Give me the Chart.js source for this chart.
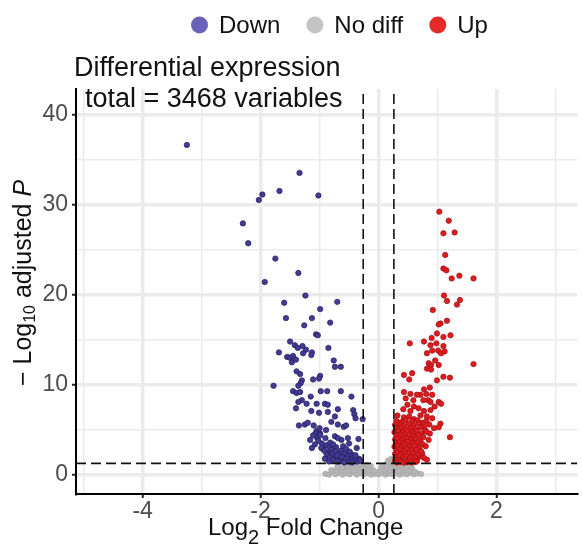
<!DOCTYPE html>
<html>
<head>
<meta charset="utf-8">
<script src="https://cdn.jsdelivr.net/npm/chart.js@4.4.1/dist/chart.umd.min.js"></script>
<style>
  html, body { margin: 0; padding: 0; background: #fff; }
  #volcano { display: block; }
</style>
</head>
<body>
<canvas id="volcano" width="582" height="545"></canvas>
<script>
// values: [log2 fold change, -log10 adjusted p]
const downPoints = [
  [-3.25, 36.6], [-1.34, 33.5], [-1.68, 31.5], [-1.97, 31.1], [-2.03, 30.5], [-1.02, 31.0],
  [-2.30, 27.9], [-2.21, 25.7], [-1.75, 24.0], [-1.36, 22.4], [-1.93, 21.4], [-1.24, 19.9],
  [-1.60, 19.1], [-0.70, 19.2], [-0.99, 18.4], [-1.57, 17.4], [-1.13, 17.4], [-0.82, 16.9],
  [-1.26, 16.6], [-1.06, 15.6], [-1.03, 15.5], [-1.50, 14.8], [-1.42, 14.4], [-1.37, 14.1],
  [-1.29, 14.3], [-1.23, 13.9], [-1.13, 13.6], [-0.85, 14.1], [-1.69, 13.6], [-1.55, 13.1],
  [-1.50, 13.0], [-1.45, 13.2], [-0.76, 12.7], [-1.47, 12.5], [-1.40, 12.8], [-1.28, 13.5],
  [-1.14, 13.3], [-0.74, 12.0], [-0.64, 12.0], [-1.39, 11.5], [-1.33, 11.2], [-0.99, 11.0],
  [-1.11, 10.6], [-1.01, 10.7], [-1.30, 10.5], [-1.32, 10.2], [-1.36, 9.9], [-1.78, 9.9],
  [-1.45, 9.3], [-1.39, 9.1], [-1.33, 9.2], [-0.98, 9.3], [-0.87, 9.3], [-0.64, 9.3],
  [-0.46, 8.7], [-1.30, 8.3], [-1.36, 8.1], [-1.22, 7.9], [-1.15, 8.7], [-1.05, 7.9],
  [-0.91, 7.9], [-0.86, 7.8], [-1.40, 7.4], [-1.14, 7.1], [-1.01, 6.9], [-0.86, 7.0],
  [-0.69, 7.3], [-0.43, 7.2], [-0.41, 6.75], [-0.74, 6.5], [-0.39, 6.3], [-0.27, 6.2],
  [-1.35, 5.5], [-1.25, 5.6], [-1.20, 5.8], [-0.80, 5.9], [-0.69, 5.6], [-0.59, 5.35],
  [-0.55, 5.5], [-1.10, 5.5], [-1.05, 4.9], [-1.00, 5.2], [-1.07, 4.6], [-0.99, 4.6],
  [-0.89, 5.0], [-0.74, 4.3], [-0.63, 3.9], [-0.52, 4.1], [-0.69, 4.1], [-1.16, 3.9],
  [-1.11, 4.4], [-1.04, 4.1], [-0.99, 4.4], [-0.96, 3.5], [-0.88, 3.3], [-0.94, 2.9],
  [-0.83, 3.1], [-0.86, 2.5], [-0.72, 3.1], [-0.64, 2.7], [-0.66, 2.3], [-0.57, 2.4],
  [-0.52, 2.1], [-0.46, 2.3], [-0.43, 1.9], [-0.59, 1.9], [-0.69, 1.9], [-0.76, 2.1],
  [-0.40, 1.7], [-0.48, 1.7], [-0.88, 2.3], [-0.83, 1.9], [-0.77, 1.7], [-0.91, 1.8],
  [-1.02, 3.8], [-0.97, 3.0], [-0.92, 2.7], [-0.80, 2.8], [-0.78, 2.4], [-0.73, 2.6],
  [-0.70, 2.2], [-0.62, 2.0], [-0.55, 1.8], [-0.50, 1.5], [-0.45, 1.4], [-0.36, 1.5],
  [-0.33, 1.8], [-0.66, 1.5], [-0.58, 1.4], [-0.71, 1.5], [-0.84, 1.5], [-1.08, 3.4],
  [-1.13, 3.0], [-0.90, 4.1], [-0.82, 3.6], [-0.77, 3.4], [-0.60, 3.2], [-0.55, 2.9],
  [-0.49, 2.6], [-0.39, 2.2], [-0.31, 1.6], [-0.37, 3.0], [-0.34, 4.0], [-0.50, 3.5]
];

const nodiffPoints = [
  [-0.90, 0.15], [-0.84, 0.05], [-0.79, 0.30], [-0.73, 0.10], [-0.67, 0.25], [-0.61, 0.05],
  [-0.55, 0.20], [-0.49, 0.10], [-0.43, 0.30], [-0.37, 0.05], [-0.31, 0.20], [-0.25, 0.10],
  [-0.19, 0.25], [-0.13, 0.05], [-0.07, 0.15], [0.00, 0.08], [0.06, 0.22], [0.12, 0.05],
  [0.18, 0.18], [0.24, 0.10], [0.30, 0.25], [0.36, 0.05], [0.42, 0.20], [0.48, 0.10],
  [0.54, 0.28], [0.60, 0.08], [0.66, 0.20], [0.72, 0.12],
  [-0.80, 0.55], [-0.71, 0.50], [-0.63, 0.60], [-0.56, 0.45], [-0.48, 0.55], [-0.41, 0.50],
  [-0.34, 0.60], [-0.26, 0.45], [-0.17, 0.55], [-0.08, 0.50], [0.02, 0.45], [0.10, 0.60],
  [0.19, 0.50], [0.27, 0.55], [0.35, 0.45], [0.44, 0.60], [0.52, 0.50], [0.61, 0.40],
  [-0.70, 0.90], [-0.61, 0.85], [-0.52, 0.95], [-0.43, 0.85], [-0.34, 0.95], [-0.24, 0.90],
  [-0.13, 1.00], [0.05, 0.95], [0.15, 0.85], [0.22, 1.00], [0.30, 0.90], [0.38, 0.95],
  [0.47, 0.85], [0.56, 0.90],
  [-0.55, 1.20], [-0.46, 1.15], [-0.37, 1.25], [-0.29, 1.20], [-0.19, 1.10], [0.13, 1.20],
  [0.20, 1.30], [0.28, 1.20], [0.35, 1.25], [0.16, 1.60], [0.22, 1.80], [0.25, 1.50], [0.21, 1.45]
];

const upPoints = [
  [1.03, 29.2], [1.19, 28.2], [1.10, 26.8], [1.29, 26.9], [1.13, 24.4], [1.10, 22.9],
  [1.15, 22.7], [1.24, 21.8], [1.37, 22.1], [1.61, 21.8], [1.11, 19.9], [1.16, 19.3],
  [1.38, 19.4], [1.33, 18.9], [0.92, 18.3], [1.05, 16.8], [1.02, 16.7], [1.16, 17.1],
  [0.99, 15.7], [1.22, 15.5], [0.90, 15.2], [1.10, 15.3], [0.53, 14.6], [0.77, 14.8],
  [0.88, 14.4], [0.98, 14.6], [1.10, 14.3], [0.91, 13.8], [1.01, 13.8], [0.82, 13.5],
  [1.06, 13.5], [1.12, 13.7], [0.96, 12.7], [0.85, 12.4], [0.89, 12.2], [1.02, 12.2],
  [0.82, 11.8], [0.89, 11.7], [1.61, 12.3], [0.43, 11.1], [0.57, 11.3], [0.52, 10.6],
  [1.10, 10.9], [1.21, 10.8], [0.99, 10.5], [0.77, 9.5], [0.87, 9.7], [0.71, 8.9],
  [0.81, 9.0], [0.91, 8.9], [0.84, 8.3], [0.88, 8.1], [0.76, 8.3], [0.43, 9.2],
  [0.54, 9.0], [0.46, 8.5], [0.65, 8.9], [0.59, 8.3], [1.02, 8.1], [1.06, 7.9],
  [0.49, 7.8], [0.60, 7.6], [0.42, 7.3], [0.54, 7.1], [0.68, 7.4], [0.77, 7.1],
  [0.88, 7.2], [0.95, 7.6], [0.32, 6.6], [0.43, 6.4], [0.52, 6.5], [0.60, 6.2],
  [0.71, 6.6], [0.82, 6.5], [0.91, 6.3], [1.21, 4.2], [0.87, 4.6], [1.05, 5.7],
  [1.02, 5.3], [0.82, 1.7], [0.68, 2.0], [0.74, 2.4],
  [0.30, 6.0], [0.39, 5.9], [0.46, 6.1], [0.57, 5.95], [0.66, 6.05], [0.74, 5.8], [0.81, 6.0],
  [0.28, 5.55], [0.36, 5.6], [0.43, 5.45], [0.51, 5.65], [0.59, 5.5], [0.68, 5.7], [0.77, 5.4], [0.86, 5.6],
  [0.31, 5.15], [0.38, 5.25], [0.45, 5.05], [0.54, 5.2], [0.62, 5.1], [0.71, 5.3], [0.79, 5.0], [0.94, 5.2],
  [0.27, 4.75], [0.34, 4.85], [0.41, 4.7], [0.49, 4.9], [0.57, 4.75], [0.65, 4.85], [0.73, 4.6], [0.81, 4.8],
  [0.30, 4.35], [0.37, 4.45], [0.44, 4.3], [0.52, 4.5], [0.60, 4.35], [0.68, 4.4], [0.76, 4.2],
  [0.28, 3.95], [0.33, 4.05], [0.40, 3.9], [0.47, 4.1], [0.55, 3.95], [0.63, 4.0], [0.71, 3.8], [0.85, 3.9],
  [0.30, 3.55], [0.36, 3.65], [0.42, 3.5], [0.50, 3.7], [0.58, 3.55], [0.66, 3.6], [0.75, 3.4],
  [0.27, 3.15], [0.33, 3.25], [0.39, 3.1], [0.45, 3.3], [0.53, 3.15], [0.61, 3.2], [0.69, 3.05], [0.80, 3.2],
  [0.30, 2.75], [0.36, 2.85], [0.42, 2.7], [0.48, 2.9], [0.56, 2.75], [0.64, 2.8], [0.72, 2.65],
  [0.28, 2.35], [0.32, 2.45], [0.38, 2.3], [0.45, 2.5], [0.51, 2.35], [0.59, 2.4], [0.67, 2.25],
  [0.29, 1.95], [0.35, 2.05], [0.41, 1.9], [0.47, 2.1], [0.54, 1.95], [0.62, 2.0], [0.77, 1.9],
  [0.28, 1.6], [0.34, 1.65], [0.39, 1.55], [0.45, 1.7], [0.51, 1.6], [0.58, 1.65], [0.65, 1.55],
  [0.31, 1.4], [0.37, 1.45], [0.43, 1.38], [0.49, 1.42], [0.56, 1.4], [0.63, 1.45]
];

const seriesNames = ['Down', 'No diff', 'Up'];
const fcCutoff = 0.26;   // log2 fold change threshold
const pCutoff = 1.3;     // -log10(0.05)
const xRange = [-5.13, 3.37];
const yRange = [-2.1, 42.8];
const xGridValues = [-5, -4, -3, -2, -1, 0, 1, 2, 3];
const xTickLabels = [-4, -2, 0, 2];
const yGridValues = [0, 5, 10, 15, 20, 25, 30, 35, 40];
const yTickLabels = [0, 10, 20, 30, 40];

const FONT = '"Liberation Sans", Arial, Helvetica, sans-serif';
const legendColors = ['#6a62b8', '#c4c4c4', '#e52a2a'];

const toXY = pts => pts.map(p => ({ x: p[0], y: p[1] }));

function cutLine(points) {
  return {
    type: 'line',
    data: points,
    borderColor: '#111',
    borderWidth: 1.6,
    borderDash: [10, 5],
    pointRadius: 0,
    fill: false,
    order: 0
  };
}

// texts that need subscripts / italics, plus legend and titles
const textPlugin = {
  id: 'volcanoText',
  afterDraw(chart) {
    const ctx = chart.ctx;
    const area = chart.chartArea;
    ctx.save();
    ctx.textBaseline = 'alphabetic';
    ctx.textAlign = 'left';

    // legend
    ctx.font = '24px ' + FONT;
    let lx = 191;
    seriesNames.forEach((name, i) => {
      ctx.beginPath();
      ctx.arc(lx + 8.5, 25, 8.5, 0, Math.PI * 2);
      ctx.fillStyle = legendColors[i];
      ctx.fill();
      ctx.fillStyle = '#111';
      ctx.fillText(name, lx + 28, 33);
      lx += 28 + ctx.measureText(name).width + 26;
    });

    // title + subtitle
    ctx.fillStyle = '#111';
    ctx.font = '27px ' + FONT;
    ctx.fillText('Differential expression', 74, 76);
    ctx.fillText('total = 3468 variables', area.left + 9, 107);

    // x axis title: Log2 Fold Change
    const xParts = [
      { t: 'Log', f: '24px ' + FONT, dy: 0 },
      { t: '2', f: '20px ' + FONT, dy: 9 },
      { t: ' Fold Change', f: '24px ' + FONT, dy: 0 }
    ];
    let tx = 208;
    xParts.forEach(p => {
      ctx.font = p.f;
      ctx.fillText(p.t, tx, 535 + p.dy);
      tx += ctx.measureText(p.t).width;
    });

    // y axis title: − Log10 adjusted P
    const yParts = [
      { t: '\u2212 Log', f: '25px ' + FONT, dy: 0 },
      { t: '10', f: '16px ' + FONT, dy: 4 },
      { t: ' adjusted ', f: '25px ' + FONT, dy: 0 },
      { t: 'P', f: 'italic 25px ' + FONT, dy: 0 }
    ];
    let total = 0;
    yParts.forEach(p => { ctx.font = p.f; total += ctx.measureText(p.t).width; });
    ctx.translate(31, 283 + total / 2);
    ctx.rotate(-Math.PI / 2);
    let ty = 0;
    yParts.forEach(p => {
      ctx.font = p.f;
      ctx.fillText(p.t, ty, p.dy);
      ty += ctx.measureText(p.t).width;
    });
    ctx.restore();
  }
};

const ctx = document.getElementById('volcano').getContext('2d');

new Chart(ctx, {
  type: 'scatter',
  data: {
    datasets: [
      cutLine([{ x: -fcCutoff, y: yRange[0] }, { x: -fcCutoff, y: yRange[1] }]),
      cutLine([{ x: fcCutoff, y: yRange[0] }, { x: fcCutoff, y: yRange[1] }]),
      cutLine([{ x: xRange[0], y: pCutoff }, { x: xRange[1], y: pCutoff }]),
      {
        label: seriesNames[2],
        data: toXY(upPoints),
        backgroundColor: '#e01b1f',
        borderColor: '#9a1215',
        borderWidth: 0.7,
        pointRadius: 2.7,
        order: 1
      },
      {
        label: seriesNames[0],
        data: toXY(downPoints),
        backgroundColor: '#443b94',
        borderColor: '#221d5a',
        borderWidth: 0.7,
        pointRadius: 2.7,
        order: 2
      },
      {
        label: seriesNames[1],
        data: toXY(nodiffPoints),
        backgroundColor: '#b5b5b5',
        borderColor: '#a3a3a3',
        borderWidth: 0.5,
        pointRadius: 2.8,
        order: 3
      }
    ]
  },
  options: {
    responsive: false,
    animation: false,
    devicePixelRatio: 1,
    layout: { padding: { top: 89, left: 0, right: 0, bottom: 0 } },
    plugins: {
      legend: { display: false },
      tooltip: { enabled: false },
      title: { display: false }
    },
    scales: {
      x: {
        type: 'linear',
        min: xRange[0],
        max: xRange[1],
        afterBuildTicks: scale => { scale.ticks = xGridValues.map(v => ({ value: v })); },
        afterFit: scale => { scale.height = 51; },
        ticks: {
          autoSkip: false,
          maxRotation: 0,
          padding: 0,
          color: '#4d4d4d',
          font: { family: FONT, size: 23 },
          callback: v => xTickLabels.includes(v) ? String(v) : ''
        },
        grid: {
          color: '#ebebeb',
          lineWidth: c => (c.tick && c.tick.value % 2 === 0) ? 3.5 : 1.5,
          tickColor: c => (c.tick && c.tick.value % 2 === 0) ? '#222' : 'rgba(0,0,0,0)',
          tickWidth: 2,
          tickLength: 4
        },
        border: { display: true, color: '#000', width: 2 }
      },
      y: {
        type: 'linear',
        min: yRange[0],
        max: yRange[1],
        afterBuildTicks: scale => { scale.ticks = yGridValues.map(v => ({ value: v })); },
        afterFit: scale => { scale.width = 76; },
        ticks: {
          autoSkip: false,
          padding: 4,
          color: '#4d4d4d',
          font: { family: FONT, size: 23 },
          callback: v => yTickLabels.includes(v) ? String(v) : ''
        },
        grid: {
          color: '#ebebeb',
          lineWidth: c => (c.tick && c.tick.value % 10 === 0) ? 3.5 : 1.5,
          tickColor: c => (c.tick && c.tick.value % 10 === 0) ? '#222' : 'rgba(0,0,0,0)',
          tickWidth: 2,
          tickLength: 4
        },
        border: { display: true, color: '#000', width: 2 }
      }
    }
  },
  plugins: [textPlugin]
});
</script>
</body>
</html>
